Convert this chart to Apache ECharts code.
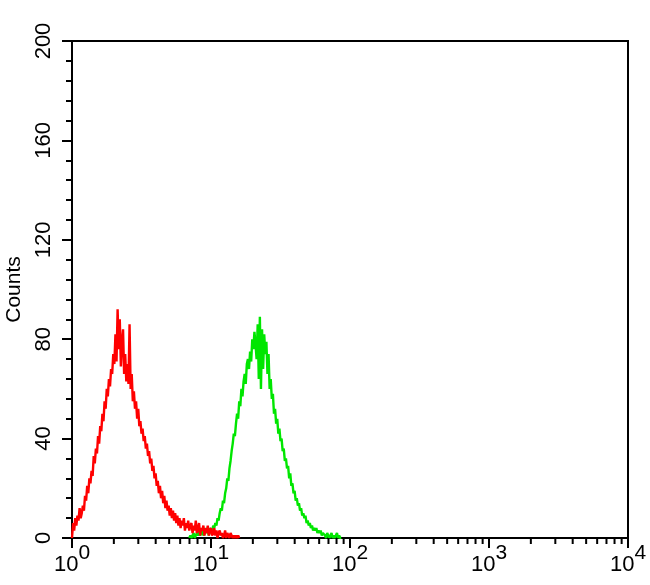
<!DOCTYPE html>
<html><head><meta charset="utf-8">
<script src="https://cdn.jsdelivr.net/npm/echarts@6/dist/echarts.min.js"></script>
<style>html,body{margin:0;padding:0;background:#fff}#c{width:650px;height:585px}</style>
</head><body><div id="c"></div><script>
const CHANNELS_PER_DECADE = 128;
const redStartChannel = 0;
const redCounts = [
  0, 6, 3, 8, 5, 9, 7, 12, 8, 10,
  13, 11, 17, 15, 21, 18, 24, 22, 27, 25,
  33, 30, 36, 34, 41, 38, 45, 43, 50, 47,
  55, 52, 60, 57, 64, 61, 68, 66, 74, 70,
  82, 71, 92, 76, 88, 69, 79, 84, 66, 74,
  63, 70, 62, 86, 60, 66, 55, 59, 52, 55,
  48, 52, 45, 47, 42, 44, 39, 41, 36, 38,
  33, 35, 30, 32, 27, 29, 24, 26, 21, 23,
  18, 21, 16, 19, 14, 17, 12, 15, 11, 13,
  9, 12, 8, 11, 7, 10, 6, 9, 5, 8,
  4, 7, 5, 8, 3, 6, 4, 7, 3, 5,
  6, 2, 5, 3, 7, 2, 4, 6, 1, 4,
  3, 5, 1, 4, 2, 5, 1, 3, 4, 1,
  2, 4, 1, 3, 0, 2, 3, 1, 2, 0,
  1, 3, 0, 2, 1, 0, 2, 1, 0, 1,
  0, 1, 0, 1, 0
];
const greenStartChannel = 108;
const greenCounts = [
  0, 1, 0, 1, 2, 0, 1, 2, 1, 3,
  1, 2, 3, 1, 2, 4, 2, 3, 1, 4,
  3, 2, 5, 4, 6, 5, 8, 7, 10, 12,
  11, 15, 14, 18, 20, 24, 23, 28, 31, 35,
  38, 42, 41, 46, 50, 48, 55, 53, 60, 57,
  63, 66, 62, 70, 72, 68, 75, 71, 80, 76,
  83, 78, 72, 86, 64, 89, 60, 84, 68, 82,
  74, 79, 66, 74, 60, 64, 56, 58, 50, 52,
  46, 48, 42, 44, 39, 40, 35, 36, 31, 32,
  28, 29, 24, 26, 21, 22, 18, 19, 15, 16,
  13, 14, 11, 12, 9, 10, 8, 9, 6, 7,
  5, 6, 4, 5, 3, 4, 3, 4, 2, 3,
  2, 3, 1, 2, 2, 1, 0, 2, 1, 0,
  1, 2, 0, 1, 0, 1, 2, 0, 1, 0, 0
];
const xTickValues = [1, 10, 100, 1000, 10000];
const xTickExponents = ['0', '1', '2', '3', '4'];
const xMinorTickValues = [2,3,4,5,6,7,8,9, 20,30,40,50,60,70,80,90,
  200,300,400,500,600,700,800,900, 2000,3000,4000,5000,6000,7000,8000,9000];
const yMin = 0, yMax = 200, yInterval = 40;
const yAxisName = 'Counts';

function toPoints(start, counts) {
  return counts.map((c, i) => [Math.pow(10, (start + i) / CHANNELS_PER_DECADE), c]);
}
const FONT = '"Liberation Sans", Arial, sans-serif';
const chart = echarts.init(document.getElementById('c'), null, {renderer: 'canvas'});
chart.setOption({
  animation: false,
  backgroundColor: '#fff',
  grid: {left: 72, right: 22, top: 41, bottom: 47, show: true, borderColor: '#000', borderWidth: 2,
         backgroundColor: '#fff', containLabel: false, outerBoundsMode: 'none'},
  xAxis: {
    type: 'log', logBase: 10, min: 1, max: 10000,
    axisLine: {lineStyle: {color: '#000', width: 2}},
    axisTick: {length: 10, lineStyle: {color: '#000', width: 2}},
    splitLine: {show: false},
    minorTick: {show: false},
    axisLabel: {
      margin: 10, color: '#000', fontSize: 22, fontFamily: FONT,
      formatter: v => {
        const i = xTickValues.indexOf(Math.round(v));
        return '{base|10}{sup|' + (i >= 0 ? xTickExponents[i] : '') + '}';
      },
      rich: {
        base: {fontFamily: FONT, fontSize: 22, lineHeight: 22, padding: [12, 0, 0, 0], color: '#000'},
        sup: {fontFamily: FONT, fontSize: 21, lineHeight: 21, padding: [0, 0, 11, 0], color: '#000'}
      }
    }
  },
  yAxis: {
    type: 'value', min: yMin, max: yMax, interval: yInterval,
    axisLine: {show: true, lineStyle: {color: '#000', width: 2}},
    axisTick: {show: true, length: 10, lineStyle: {color: '#000', width: 2}},
    minorTick: {show: true, splitNumber: 5, length: 6, lineStyle: {color: '#000', width: 2}},
    splitLine: {show: false},
    minorSplitLine: {show: false},
    axisLabel: {rotate: 90, margin: 17, fontSize: 22, fontFamily: FONT, color: '#000'},
    name: yAxisName, nameLocation: 'middle', nameRotate: 90, nameGap: 47,
    nameTextStyle: {fontSize: 21, fontFamily: FONT, color: '#000'}
  },
  series: [
    {type: 'line', data: toPoints(greenStartChannel, greenCounts), showSymbol: false,
     lineStyle: {color: '#00e600', width: 2.4}, itemStyle: {color: '#00e600'}, z: 3},
    {type: 'line', data: toPoints(redStartChannel, redCounts), showSymbol: false,
     lineStyle: {color: '#ff0000', width: 2.4}, itemStyle: {color: '#ff0000'}, z: 4},
    {type: 'custom', data: xMinorTickValues.map(v => [v, 0]), clip: false, silent: true, z: 5,
     renderItem: (params, api) => {
       const p = api.coord([api.value(0), 0]);
       return {type: 'line', shape: {x1: p[0], y1: p[1], x2: p[0], y2: p[1] + 6},
               style: {stroke: '#000', lineWidth: 2}};
     }}
  ]
});
</script></body></html>
